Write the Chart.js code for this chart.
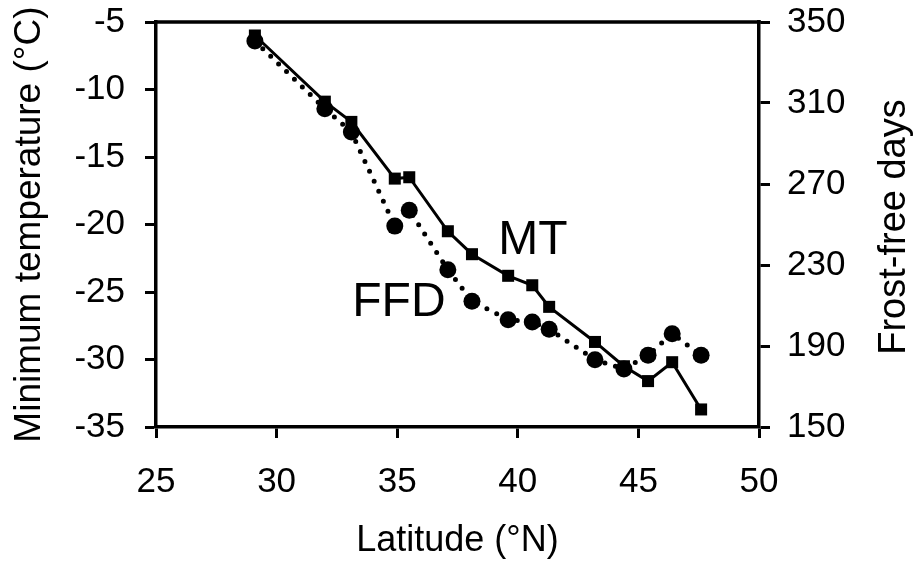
<!DOCTYPE html>
<html><head><meta charset="utf-8">
<style>html,body{margin:0;padding:0;background:#fff;} #wrap{width:916px;height:563px;}</style>
<script src="https://cdn.jsdelivr.net/npm/chart.js@4/dist/chart.umd.min.js"></script>
</head><body><div id="wrap"><canvas id="c" width="916" height="563"></canvas></div>
<script>
const latitude  = [29.1, 32.0, 33.1, 34.9, 35.5, 37.1, 38.1, 39.6, 40.6, 41.3, 43.2, 44.4, 45.4, 46.4, 47.6];
const minTemp   = [-6.0, -10.9, -12.4, -16.6, -16.5, -20.5, -22.2, -23.8, -24.5, -26.1, -28.7, -30.5, -31.6, -30.2, -33.7];
const frostFree = [340.6, 307.2, 295.7, 249.2, 257.0, 227.7, 212.1, 203.0, 201.9, 198.3, 183.2, 178.6, 185.4, 196.1, 185.4];
const xTicks    = [25, 30, 35, 40, 45, 50];
const tempTicks = [-35, -30, -25, -20, -15, -10, -5];
const ffdTicks  = [150, 190, 230, 270, 310, 350];
const seriesNames = ['MT', 'FFD'];
const seriesLabelLat  = [40.63, 35.07];
const seriesLabelTemp = [-21.2, -25.8];

const FONT = '"Liberation Sans", Arial, sans-serif';
Chart.defaults.font.family = FONT;
Chart.defaults.color = '#000';

const mtData  = latitude.map((x, i) => ({x, y: minTemp[i]}));
const ffdData = latitude.map((x, i) => ({x, y: frostFree[i]}));

const decor = {
  id: 'decor',
  afterDraw(chart) {
    const {ctx, chartArea: a, scales} = chart;
    ctx.save();
    ctx.strokeStyle = '#000';
    ctx.lineWidth = 3.5;
    ctx.beginPath();
    ctx.moveTo(a.left - 1.75, a.top);
    ctx.lineTo(a.right + 1.75, a.top);
    ctx.stroke();
    ctx.fillStyle = '#000';
    ctx.textAlign = 'center';
    ctx.textBaseline = 'middle';
    ctx.font = '48px ' + FONT;
    seriesNames.forEach((t, i) => {
      ctx.fillText(t, scales.x.getPixelForValue(seriesLabelLat[i]), scales.y.getPixelForValue(seriesLabelTemp[i]));
    });
    ctx.translate(895, 227);
    ctx.rotate(-Math.PI / 2);
    ctx.font = '38px ' + FONT;
    ctx.fillText('Frost-free days', 0, 0);
    ctx.restore();
  }
};

const gridOpts = {drawOnChartArea: false, drawTicks: true, tickLength: 11, tickWidth: 3, tickColor: '#000'};
const borderOpts = {display: true, width: 3.5, color: '#000'};

new Chart(document.getElementById('c'), {
  type: 'line',
  data: {
    datasets: [
      {label: 'MT', data: mtData, yAxisID: 'y', borderColor: '#000', backgroundColor: '#000',
       borderWidth: 3, tension: 0, pointStyle: 'rect', pointRadius: 8.5, pointBorderWidth: 0,
       pointBackgroundColor: '#000'},
      {label: 'FFD', data: ffdData, yAxisID: 'y2', borderColor: '#000', backgroundColor: '#000',
       borderWidth: 5, borderDash: [0, 11], borderCapStyle: 'round', tension: 0,
       pointStyle: 'circle', pointRadius: 8.5, pointBorderWidth: 0, pointBackgroundColor: '#000'}
    ]
  },
  options: {
    responsive: false,
    animation: false,
    layout: {padding: {top: 22, left: 0, right: 0, bottom: 0}},
    plugins: {legend: {display: false}, tooltip: {enabled: false}},
    scales: {
      x: {
        type: 'linear', position: 'bottom', min: 25, max: 50,
        afterBuildTicks: s => { s.ticks = xTicks.map(v => ({value: v})); },
        afterFit: s => { s.height = 136; s.paddingLeft = 0; s.paddingRight = 0; },
        grid: gridOpts, border: borderOpts,
        ticks: {font: {size: 35}, padding: 23, color: '#000', maxRotation: 0},
        title: {display: true, text: 'Latitude (°N)', font: {size: 36}, padding: {top: 0, bottom: 0}, color: '#000'}
      },
      y: {
        type: 'linear', position: 'left', min: -35, max: -5,
        afterBuildTicks: s => { s.ticks = tempTicks.map(v => ({value: v})); },
        afterFit: s => { s.width = 156; s.paddingTop = 0; s.paddingBottom = 0; },
        grid: gridOpts, border: borderOpts,
        ticks: {font: {size: 35}, padding: 20, color: '#000'},
        title: {display: true, text: 'Minimum temperature (°C)', font: {size: 37}, padding: {top: 8, bottom: 0}, color: '#000'}
      },
      y2: {
        type: 'linear', position: 'right', min: 150, max: 350,
        afterBuildTicks: s => { s.ticks = ffdTicks.map(v => ({value: v})); },
        afterFit: s => { s.width = 157; s.paddingTop = 0; s.paddingBottom = 0; },
        grid: gridOpts, border: borderOpts,
        ticks: {font: {size: 35}, padding: 17, color: '#000'},
        title: {display: false}
      }
    }
  },
  plugins: [decor]
});
</script></body></html>
